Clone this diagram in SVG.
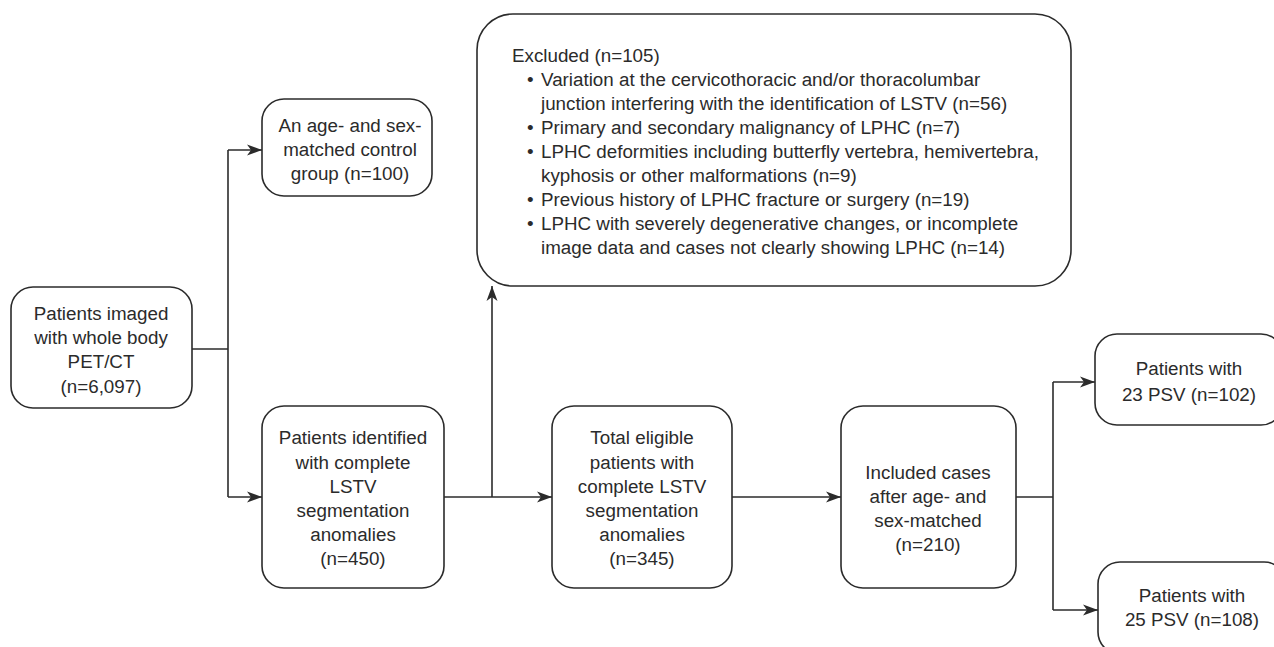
<svg xmlns="http://www.w3.org/2000/svg" width="1274" height="647" viewBox="0 0 1274 647">
<defs>
<style>
.box{fill:#fff;stroke:#2b2b2b;stroke-width:1.6}
.t{font-family:"Liberation Sans",Arial,sans-serif;font-size:18.8px;fill:#2b2b2b}
.c{text-anchor:middle}
.ln{fill:none;stroke:#2b2b2b;stroke-width:1.6}
</style>
<marker id="ah" markerUnits="userSpaceOnUse" markerWidth="16" markerHeight="12" viewBox="0 0 16 12" refX="15" refY="6" orient="auto">
<path d="M0,0.5 L15,6 L0,11.5 L4,6 z" fill="#2b2b2b"/>
</marker>
</defs>
<rect width="1274" height="647" fill="#fff"/>

<g id="connectors">
<path class="ln" d="M192,349 H228"/>
<path class="ln" d="M228,150 V497"/>
<path class="ln" d="M228,150 H262" marker-end="url(#ah)"/>
<path class="ln" d="M228,497 H262" marker-end="url(#ah)"/>
<path class="ln" d="M444,497 H552" marker-end="url(#ah)"/>
<path class="ln" d="M492,497 V286" marker-end="url(#ah)"/>
<path class="ln" d="M732,497 H841" marker-end="url(#ah)"/>
<path class="ln" d="M1016,497 H1053"/>
<path class="ln" d="M1053,382 V610"/>
<path class="ln" d="M1053,382 H1095" marker-end="url(#ah)"/>
<path class="ln" d="M1053,610 H1098" marker-end="url(#ah)"/>
</g>

<g id="node-pet">
<rect class="box" x="11" y="287" width="181" height="121" rx="22"/>
<text class="t c" x="101" y="320">Patients imaged</text>
<text class="t c" x="101" y="344">with whole body</text>
<text class="t c" x="101" y="368">PET/CT</text>
<text class="t c" x="101" y="393">(n=6,097)</text>
</g>

<g id="node-control">
<rect class="box" x="262" y="99" width="170" height="97" rx="22"/>
<text class="t c" x="350" y="132">An age- and sex-</text>
<text class="t c" x="350" y="156">matched control</text>
<text class="t c" x="350" y="180">group (n=100)</text>
</g>

<g id="node-excluded">
<rect class="box" x="477" y="14" width="594" height="272" rx="36"/>
<text class="t" x="512" y="62">Excluded (n=105)</text>
<text class="t" x="527" y="86">•</text>
<text class="t" x="541" y="86">Variation at the cervicothoracic and/or thoracolumbar</text>
<text class="t" x="541" y="110">junction interfering with the identification of LSTV (n=56)</text>
<text class="t" x="527" y="134">•</text>
<text class="t" x="541" y="134">Primary and secondary malignancy of LPHC (n=7)</text>
<text class="t" x="527" y="158">•</text>
<text class="t" x="541" y="158">LPHC deformities including butterfly vertebra, hemivertebra,</text>
<text class="t" x="541" y="182">kyphosis or other malformations (n=9)</text>
<text class="t" x="527" y="206">•</text>
<text class="t" x="541" y="206">Previous history of LPHC fracture or surgery (n=19)</text>
<text class="t" x="527" y="230">•</text>
<text class="t" x="541" y="230">LPHC with severely degenerative changes, or incomplete</text>
<text class="t" x="541" y="254">image data and cases not clearly showing LPHC (n=14)</text>
</g>

<g id="node-identified">
<rect class="box" x="262" y="406" width="182" height="182" rx="22"/>
<text class="t c" x="353" y="444">Patients identified</text>
<text class="t c" x="353" y="469">with complete</text>
<text class="t c" x="353" y="493">LSTV</text>
<text class="t c" x="353" y="517">segmentation</text>
<text class="t c" x="353" y="541">anomalies</text>
<text class="t c" x="353" y="565">(n=450)</text>
</g>

<g id="node-eligible">
<rect class="box" x="552" y="406" width="180" height="182" rx="22"/>
<text class="t c" x="642" y="444">Total eligible</text>
<text class="t c" x="642" y="469">patients with</text>
<text class="t c" x="642" y="493">complete LSTV</text>
<text class="t c" x="642" y="517">segmentation</text>
<text class="t c" x="642" y="541">anomalies</text>
<text class="t c" x="642" y="565">(n=345)</text>
</g>

<g id="node-included">
<rect class="box" x="841" y="406" width="175" height="182" rx="22"/>
<text class="t c" x="928" y="479">Included cases</text>
<text class="t c" x="928" y="503">after age- and</text>
<text class="t c" x="928" y="527">sex-matched</text>
<text class="t c" x="928" y="551">(n=210)</text>
</g>

<g id="node-23psv">
<rect class="box" x="1095" y="334" width="188" height="91" rx="22"/>
<text class="t c" x="1189" y="375">Patients with</text>
<text class="t c" x="1189" y="401">23 PSV (n=102)</text>
</g>

<g id="node-25psv">
<rect class="box" x="1098" y="562" width="188" height="92" rx="22"/>
<text class="t c" x="1192" y="602">Patients with</text>
<text class="t c" x="1192" y="626">25 PSV (n=108)</text>
</g>
</svg>
